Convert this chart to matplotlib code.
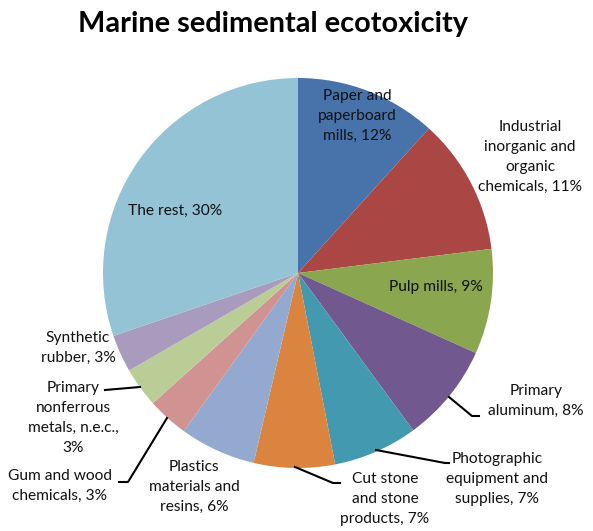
import matplotlib.pyplot as plt

plt.rcParams['font.family'] = ['Lato', 'DejaVu Sans']

# slice data, clockwise from 12 o'clock
sectors = ['Paper and\npaperboard\nmills', 'Industrial\ninorganic and\norganic\nchemicals',
           'Pulp mills', 'Primary\naluminum', 'Photographic\nequipment and\nsupplies',
           'Cut stone\nand stone\nproducts', 'Plastics\nmaterials and\nresins',
           'Gum and wood\nchemicals', 'Primary\nnonferrous\nmetals, n.e.c.,\n',
           'Synthetic\nrubber', 'The rest']
shares = [11.7, 11.3, 8.7, 8.2, 7.0, 6.7, 6.3, 3.4, 3.3, 3.1, 30.2]
colors = ['#4773AA', '#AA4744', '#8AA64F', '#71598F', '#4399B0', '#DB843F',
          '#94A9CF', '#D19392', '#BACD96', '#A99BBD', '#93C3D5']

W, H = 593, 531
fig = plt.figure(figsize=(W / 100, H / 100), dpi=100)
ax = fig.add_axes([0, 0, 1, 1])
ax.set_xlim(0, W)
ax.set_ylim(0, H)
ax.set_aspect('equal')
ax.axis('off')

def Y(y):
    return H - y

ax.pie(shares, colors=colors, startangle=90, counterclock=False,
       center=(298, Y(273)), radius=195)
ax.set_xlim(0, W)
ax.set_ylim(0, H)

# label positions (pixel coords from top-left)
label_pos = [(357, 116), (530, 157), (436, 287), (536, 401), (497, 479),
             (385, 499), (194, 487), (60, 486), (73, 418), (78, 348), (175, 211)]

for name, v, (x, y) in zip(sectors, shares, label_pos):
    sep = '' if name.endswith('\n') else ', '
    ax.text(x, Y(y), f'{name}{sep}{round(v)}%', ha='center', va='center',
            fontsize=11.2, color='#111111', linespacing=1.55)

# leader lines
leaders = [
    [(449, 397), (472, 416), (479, 416)],
    [(376, 450), (445, 463), (449, 463)],
    [(295, 467), (333, 483), (340, 483)],
    [(140, 387), (105, 390)],
    [(167, 418), (128, 482), (119, 482)],
]
for pts in leaders:
    ax.plot([p[0] for p in pts], [Y(p[1]) for p in pts], color='black', lw=1.5)

ax.text(273, Y(24), 'Marine sedimental ecotoxicity', ha='center', va='center',
        fontsize=20.8, fontweight='bold', color='black')

fig.savefig('out.png', dpi=100)
